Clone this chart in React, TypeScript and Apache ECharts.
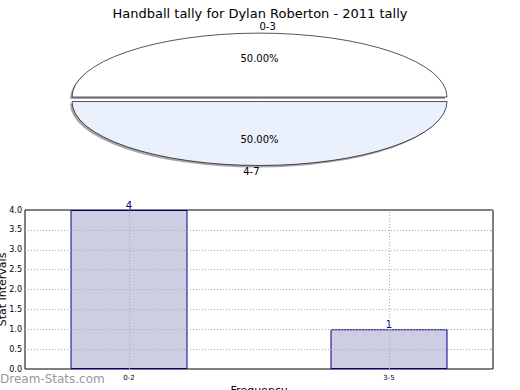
import React, { useEffect, useRef } from "react";
import * as echarts from "echarts";

const chartTitle = "Handball tally for Dylan Roberton - 2011 tally";
const pieCategories = ["0-3", "4-7"];
const pieValues = [1, 1];
const pieColors = ["#ffffff", "#eaf1fd"];
const barCategories = ["0-2", "3-5"];
const barPositions = [0, 1];
const barValues = [4, 1];
const yGridValues = [0.5, 1, 1.5, 2, 2.5, 3, 3.5];
const watermark = "Dream-Stats.com";

const FONT = "DejaVu Sans, Liberation Sans, sans-serif";

export default function App() {
  const ref = useRef<HTMLDivElement>(null);
  useEffect(() => {
    if (!ref.current) return;
    const chart = echarts.init(ref.current, null, { renderer: "svg" });
    const total = pieValues.reduce((a, b) => a + b, 0);
    const cx = 259.5;
    const cy = 99.3;
    const rx = 187.5;
    const ry = 64;
    const explode = 0.035;

    const option: any = {
      animation: false,
      backgroundColor: "#ffffff",
      title: {
        text: chartTitle,
        left: "center",
        top: 2,
        textStyle: { fontFamily: FONT, fontSize: 13, fontWeight: "normal", color: "#000" },
      },
      graphic: [
        {
          type: "text",
          left: 0,
          top: 373,
          style: { text: watermark, fontFamily: FONT, fontSize: 12, fill: "#999999" },
        },
      ],
      grid: {
        left: 25,
        right: 27,
        top: 210,
        bottom: 21,
        containLabel: false,
        outerBoundsMode: "none",
        show: true,
        borderColor: "#000",
        borderWidth: 1,
        backgroundColor: "transparent",
      },
      xAxis: {
        type: "value",
        min: -0.4,
        max: 1.4,
        interval: 0.2,
        name: "Frequency",
        nameLocation: "middle",
        nameGap: 16,
        nameMoveOverlap: false,
        nameTextStyle: { fontFamily: FONT, fontSize: 11, color: "#000", verticalAlign: "top" },
        axisLine: { show: false },
        axisTick: { show: false },
        splitLine: { show: false },
        axisLabel: {
          customValues: barPositions,
          fontFamily: FONT,
          fontSize: 7,
          color: "#000",
          margin: 5,
          formatter: (v: number) => {
            const idx = barPositions.findIndex((p) => Math.abs(p - v) < 1e-6);
            return idx >= 0 ? barCategories[idx] : "";
          },
        },
      },
      yAxis: [
        {
          type: "value",
          min: 0,
          max: 4,
          interval: 0.5,
          name: "Stat Intervals",
          nameLocation: "middle",
          nameRotate: 90,
          nameGap: 17,
          nameMoveOverlap: false,
          nameTextStyle: { fontFamily: FONT, fontSize: 11, color: "#000" },
          axisLine: { show: false },
          axisTick: { show: true, inside: true, length: 3, lineStyle: { color: "#999" } },
          splitLine: { show: false },
          axisLabel: {
            fontFamily: FONT,
            fontSize: 8,
            color: "#000",
            margin: 3,
            formatter: (v: number) => v.toFixed(1),
          },
        },
        {
          type: "value",
          position: "right",
          min: 0,
          max: 4,
          interval: 0.5,
          axisLine: { show: false },
          axisTick: { show: true, inside: true, length: 3, lineStyle: { color: "#999" } },
          splitLine: { show: false },
          axisLabel: { show: false },
        },
      ],
      series: [
        {
          type: "bar",
          data: barPositions.map((p, i) => [p, barValues[i]]),
          barWidth: 117,
          itemStyle: { color: "#cdcde4", borderColor: "#000080", borderWidth: 1 },
          label: {
            show: true,
            position: "top",
            distance: 0,
            color: "#000080",
            fontFamily: FONT,
            fontSize: 10,
            formatter: (p: any) => String(p.value[1]),
          },
          markLine: {
            silent: true,
            symbol: "none",
            label: { show: false },
            lineStyle: { color: "#aaaaaa", width: 1, type: [1, 2] },
            data: [
              ...yGridValues.map((v) => ({ yAxis: v })),
              ...barPositions.map((v) => ({ xAxis: v })),
            ],
          },
        },
        {
          type: "custom",
          coordinateSystem: "none",
          silent: true,
          data: pieValues.map((v, i) => [v, i]),
          renderItem: (params: any, api: any) => {
            const i = params.dataIndex;
            let before = 0;
            for (let k = 0; k < i; k++) before += pieValues[k];
            const a0 = (before / total) * Math.PI * 2;
            const a1 = ((before + pieValues[i]) / total) * Math.PI * 2;
            const mid = (a0 + a1) / 2;
            const ecx = cx + explode * rx * Math.cos(mid);
            const ecy = cy - explode * ry * Math.sin(mid);
            const shape = { cx: 0, cy: 0, r: rx, r0: 0, startAngle: -a1, endAngle: -a0, clockwise: true };
            const lx = ecx + 1.1 * rx * Math.cos(mid);
            const ly = ecy - 1.1 * ry * Math.sin(mid);
            const c = Math.cos(mid);
            const align = c > 0 ? "left" : c < 0 ? "right" : "center";
            const px = ecx + 0.6 * rx * Math.cos(mid);
            const py = ecy - 0.6 * ry * Math.sin(mid);
            const pct = ((pieValues[i] / total) * 100).toFixed(2) + "%";
            return {
              type: "group",
              children: [
                {
                  type: "sector",
                  x: ecx - 2,
                  y: ecy + 2,
                  scaleY: ry / rx,
                  z2: 0,
                  shape,
                  style: { fill: "rgba(77,77,77,0.5)", stroke: "none" },
                },
                {
                  type: "sector",
                  x: ecx,
                  y: ecy,
                  scaleY: ry / rx,
                  z2: 10,
                  shape,
                  style: { fill: pieColors[i], stroke: "#000", lineWidth: 1, strokeNoScale: true },
                },
                {
                  type: "text",
                  z2: 20,
                  x: lx,
                  y: ly,
                  style: {
                    text: pieCategories[i],
                    align,
                    verticalAlign: "middle",
                    fontFamily: FONT,
                    fontSize: 10,
                    fill: "#000",
                  },
                },
                {
                  type: "text",
                  z2: 20,
                  x: px,
                  y: py,
                  style: {
                    text: pct,
                    align: "center",
                    verticalAlign: "middle",
                    fontFamily: FONT,
                    fontSize: 10,
                    fill: "#000",
                  },
                },
              ],
            };
          },
        },
      ],
    };
    chart.setOption(option);
    return () => chart.dispose();
  }, []);
  return (
    <div
      ref={ref}
      style={{ position: "fixed", left: 0, top: 0, width: 520, height: 390, background: "#fff" }}
    />
  );
}
